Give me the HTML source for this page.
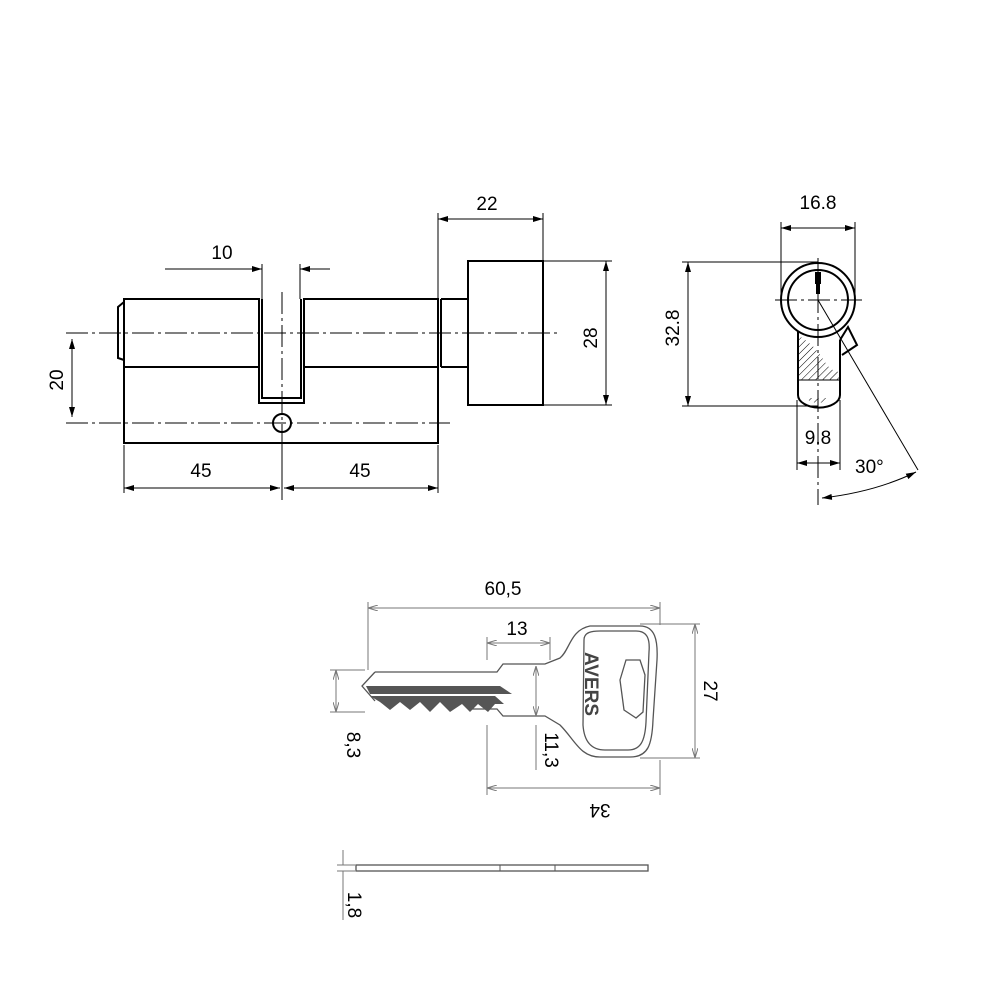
<!DOCTYPE html><html><head><style>body{margin:0;background:#fff}svg{display:block}text{font-family:"Liberation Sans",sans-serif;font-size:19px}</style></head><body>
<svg width="1000" height="1000" viewBox="0 0 1000 1000" xmlns="http://www.w3.org/2000/svg">
<defs>
<marker id="a" viewBox="0 0 10 6" refX="10" refY="3" markerWidth="10" markerHeight="6" orient="auto-start-reverse" markerUnits="userSpaceOnUse"><path d="M0,0L10,3L0,6z" fill="#000"/></marker>
<marker id="g" viewBox="0 0 10 6" refX="10" refY="3" markerWidth="10" markerHeight="6" orient="auto-start-reverse" markerUnits="userSpaceOnUse"><path d="M0,0L10,3L0,6" fill="none" stroke="#777"/></marker>
<pattern id="h" width="5" height="5" patternUnits="userSpaceOnUse" patternTransform="rotate(45)"><line x1="0" y1="0" x2="0" y2="5" stroke="#000" stroke-width="1"/></pattern>
</defs>
<!-- cylinder -->
<g fill="none" stroke="#000" stroke-width="2">
<path d="M124,299H259V403H304V299H438V443H124Z"/>
<path d="M124,367H259M304,367H438"/>
<path d="M262,299V398H301V299"/>
<path d="M124,302L118,307V358L124,360"/>
<path d="M441,299H468M441,367H468M441,299V367"/>
<rect x="468" y="261" width="75" height="144"/>
<circle cx="282" cy="423" r="9"/>
</g>
<g stroke="#000" stroke-width="1" fill="none">
<path d="M66,333H560M66,423H450M282,292V500" stroke-dasharray="22,4,3,4"/>
<path d="M72,339V417" marker-start="url(#a)" marker-end="url(#a)"/>
<path d="M124,445V493M438,445V493M282,445V493"/>
<path d="M124,488H280" marker-start="url(#a)" marker-end="url(#a)"/>
<path d="M284,488H438" marker-start="url(#a)" marker-end="url(#a)"/>
<path d="M262,264V299M300,264V299"/>
<path d="M165,269H262" marker-end="url(#a)"/><path d="M330,269H300" marker-end="url(#a)"/>
<path d="M438,213V299M543,213V261"/>
<path d="M438,219H543" marker-start="url(#a)" marker-end="url(#a)"/>
<path d="M543,261H612M543,405H612"/>
<path d="M606,261V405" marker-start="url(#a)" marker-end="url(#a)"/>
</g>
<text x="222" y="259" text-anchor="middle">10</text>
<text x="487" y="210" text-anchor="middle">22</text>
<text x="201" y="477" text-anchor="middle">45</text>
<text x="360" y="477" text-anchor="middle">45</text>
<text transform="translate(63,380) rotate(-90)" text-anchor="middle">20</text>
<text transform="translate(597,338) rotate(-90)" text-anchor="middle">28</text>
<!-- end view -->
<path d="M798,335C805,340 815,345 825,362C830,370 836,372 840,372V380H798Z" fill="url(#h)" stroke="none"/>
<path d="M806,398H830A14,10 0 0 1 806,398Z" fill="url(#h)"/>
<g fill="none" stroke="#000" stroke-width="2">
<path d="M798,330V395A20,12 0 0 0 840,395V340"/>
<circle cx="818" cy="300" r="37" fill="#fff"/>
<circle cx="818" cy="300" r="30"/>
<path d="M840,340L848,327L857,345L842,355"/>
</g>
<rect x="815" y="272" width="6" height="12" fill="#000"/><rect x="816" y="284" width="4" height="10" fill="#000"/>
<g stroke="#000" stroke-width="1" fill="none">
<path d="M798,380H840"/>
<path d="M775,300H862M818,258V505" stroke-dasharray="22,4,3,4"/>
<path d="M818,300L918,470"/>
<path d="M682,262H818M682,406H818"/>
<path d="M688,262V406" marker-start="url(#a)" marker-end="url(#a)"/>
<path d="M781,222V300M855,222V300"/>
<path d="M781,228H855" marker-start="url(#a)" marker-end="url(#a)"/>
<path d="M797,400V470M840,400V470"/>
<path d="M797,463H840" marker-start="url(#a)" marker-end="url(#a)"/>
<path d="M822,498Q875,492 916,472" marker-start="url(#a)" marker-end="url(#a)"/>
</g>
<text x="818" y="209" text-anchor="middle">16.8</text>
<text x="818" y="444" text-anchor="middle">9.8</text>
<text x="855" y="473" font-size="14">30°</text>
<text transform="translate(679,328) rotate(-90)" text-anchor="middle">32.8</text>
<!-- key -->
<g fill="none" stroke="#555" stroke-width="1.3">
<path d="M375,672H497L503,664H545L560,658C570,650 570,630 590,626H640C655,626 658,640 657,660L653,720C652,745 648,757 630,757H600C580,757 575,740 560,725L545,716H503L497,709H470"/>
<path d="M375,672L362,686L375,701"/>
<path d="M584,640C584,632 592,631 600,631H636C648,631 650,640 649,652L646,722C645,742 640,750 628,750H605C590,750 584,740 583,725Z"/>
<path d="M626,660H640L645,675L643,712L636,718L624,710L620,680Z"/>
</g>
<path d="M366,686H500L512,694H370Z" fill="#555"/>
<path d="M370,696H495L504,704H495L488,712L478,704L470,712L462,704L450,712L440,702L430,712L420,702L410,710L400,702L390,710L380,702Z" fill="#555"/>
<text transform="translate(585,652) rotate(90)" font-size="17" fill="#444" font-weight="bold">AVERS</text>
<rect x="356" y="865" width="292" height="6" fill="none" stroke="#555" stroke-width="1.3"/>
<path d="M500,865V871M555,865V871" stroke="#555"/>
<g stroke="#777" stroke-width="1" fill="none">
<path d="M368,602V670M660,602V625"/>
<path d="M368,608H660" marker-start="url(#g)" marker-end="url(#g)"/>
<path d="M487,637V660M550,637V660"/>
<path d="M487,643H550" marker-start="url(#g)" marker-end="url(#g)"/>
<path d="M640,624H700M640,758H700"/>
<path d="M695,624V758" marker-start="url(#g)" marker-end="url(#g)"/>
<path d="M487,725V795M660,760V795"/>
<path d="M487,788H660" marker-start="url(#g)" marker-end="url(#g)"/>
<path d="M330,670H365M330,712H365"/>
<path d="M336,670V712" marker-start="url(#g)" marker-end="url(#g)"/>
<path d="M536,666V716" marker-start="url(#g)" marker-end="url(#g)"/>
<path d="M536,725V770"/>
<path d="M337,865H355M337,871H355M343,850V865M343,871V920"/>
</g>
<text x="503" y="595" text-anchor="middle">60,5</text>
<text x="517" y="635" text-anchor="middle">13</text>
<text transform="translate(704,691) rotate(90)" text-anchor="middle">27</text>
<text transform="translate(600,804) rotate(180)" text-anchor="middle">34</text>
<text transform="translate(347,745) rotate(90)" text-anchor="middle">8,3</text>
<text transform="translate(545,750) rotate(90)" text-anchor="middle">11,3</text>
<text transform="translate(348,905) rotate(90)" text-anchor="middle">1,8</text>
</svg></body></html>
